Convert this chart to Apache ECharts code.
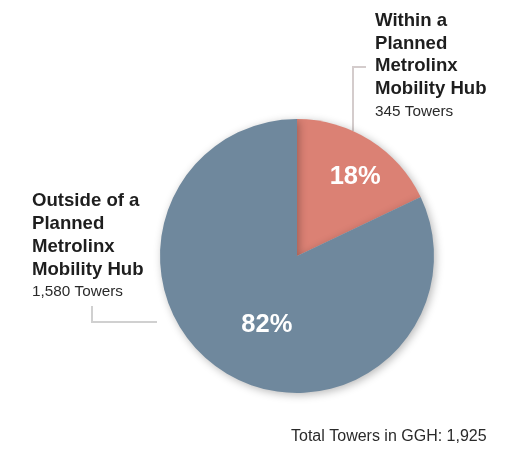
<!DOCTYPE html>
<html>
<head>
<meta charset="utf-8">
<script src="https://cdn.jsdelivr.net/npm/echarts@6/dist/echarts.min.js"></script>
<style>
html,body{margin:0;padding:0;background:#fff;}
#chart{width:526px;height:452px;}
</style>
</head>
<body>
<div id="chart"></div>
<script>
var categories = ['Within a Planned Metrolinx Mobility Hub', 'Outside of a Planned Metrolinx Mobility Hub'];
var labelLines = [['Within a', 'Planned', 'Metrolinx', 'Mobility Hub'], ['Outside of a', 'Planned', 'Metrolinx', 'Mobility Hub']];
var towers = [345, 1580];
var colors = ['#DB8174', '#6F889D'];
var totalLabel = 'Total Towers in GGH';

var total = towers.reduce(function (a, b) { return a + b; }, 0);
var fmt = function (n) { return n.toLocaleString('en-US'); };
var FONT = '"Liberation Sans", Arial, Helvetica, sans-serif';

function labelText(i) {
  return labelLines[i].map(function (s) { return '{b|' + s + '}'; }).join('\n') + '\n{n|' + fmt(towers[i]) + ' Towers}';
}
var rich = {
  b: { fontFamily: FONT, fontWeight: 'bold', fontSize: 18.6, lineHeight: 22.7, fill: '#1e1e1e' },
  n: { fontFamily: FONT, fontSize: 15.3, lineHeight: 22, fill: '#2a2a2a' }
};

var chart = echarts.init(document.getElementById('chart'), null, { renderer: 'canvas' });
chart.setOption({
  animation: false,
  backgroundColor: '#ffffff',
  series: [{
    type: 'pie',
    center: [297, 256],
    radius: 137,
    startAngle: 90,
    clockwise: true,
    data: categories.map(function (c, i) {
      return { name: c, value: towers[i], itemStyle: { color: colors[i] } };
    }),
    itemStyle: { shadowBlur: 8, shadowColor: 'rgba(0,0,0,0.28)', shadowOffsetX: 2, shadowOffsetY: 2, borderWidth: 0 },
    label: {
      show: true,
      position: 'inside',
      formatter: function (p) { return Math.round(p.value / total * 100) + '%'; },
      color: '#fff',
      fontFamily: FONT,
      fontWeight: 'bold',
      fontSize: 25.5
    },
    labelLayout: function (p) {
      return p.dataIndex === 0 ? { dx: 20, dy: -19 } : { dx: 8, dy: 9 };
    },
    labelLine: { show: false },
    emphasis: { disabled: true }
  }],
  graphic: [
    { type: 'polyline', shape: { points: [[366, 67], [353, 67], [353, 131]] }, style: { stroke: '#d4cccc', lineWidth: 2, fill: null }, z: 0 },
    { type: 'polyline', shape: { points: [[92, 306], [92, 322], [157, 322]] }, style: { stroke: '#d0d0d0', lineWidth: 2, fill: null } },
    { type: 'text', x: 375, y: 9.5, style: { text: labelText(0), rich: rich, verticalAlign: 'top', align: 'left' } },
    { type: 'text', x: 32, y: 190, style: { text: labelText(1), rich: rich, verticalAlign: 'top', align: 'left' } },
    { type: 'text', x: 291, y: 437, style: { text: totalLabel + ': ' + fmt(total), fontFamily: FONT, fontSize: 16, fill: '#2a2a2a', verticalAlign: 'middle', align: 'left' } }
  ]
});
</script>
</body>
</html>
